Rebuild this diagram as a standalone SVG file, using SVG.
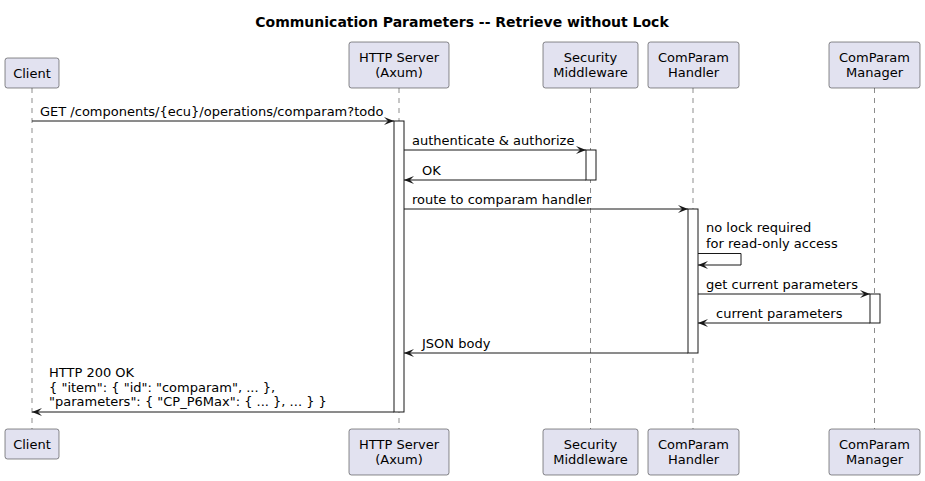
<svg xmlns="http://www.w3.org/2000/svg" width="925" height="481" viewBox="0 0 925 481">
<defs>
<style>
text{font-family:"DejaVu Sans","Liberation Sans",sans-serif;font-size:13px;fill:#000}
.title{font-size:14px;font-weight:bold}
.p rect{fill:#E2E2F0;stroke:#181818;stroke-width:0.5}
.p text{text-anchor:middle}
.life{stroke:#181818;stroke-width:0.5;stroke-dasharray:5,5;fill:none}
.act{fill:#FFFFFF;stroke:#181818;stroke-width:1}
.msg{stroke:#181818;stroke-width:1;fill:none}
</style>
<marker id="ah" viewBox="0 0 10 8" refX="10" refY="4" markerWidth="10" markerHeight="8" markerUnits="userSpaceOnUse" orient="auto">
<polygon points="0,0 10,4 0,8 4,4" fill="#181818"/>
</marker>
</defs>
<rect width="925" height="481" fill="#FFFFFF"/>
<text class="title" x="462" y="27" text-anchor="middle">Communication Parameters -- Retrieve without Lock</text>

<g id="lifelines">
<line class="life" x1="32" y1="88" x2="32" y2="429"/>
<line class="life" x1="399" y1="88" x2="399" y2="429"/>
<line class="life" x1="590.5" y1="88" x2="590.5" y2="429"/>
<line class="life" x1="693" y1="88" x2="693" y2="429"/>
<line class="life" x1="874.5" y1="88" x2="874.5" y2="429"/>
</g>

<g id="client">
<g class="p"><rect x="5" y="58" width="54" height="30" rx="2.5"/><text x="32" y="78">Client</text></g>
<g class="p"><rect x="5" y="429" width="54" height="30" rx="2.5"/><text x="32" y="449">Client</text></g>
</g>
<g id="http-server">
<g class="p"><rect x="349" y="42" width="100" height="46" rx="2.5"/><text x="399" y="62">HTTP Server</text><text x="399" y="77">(Axum)</text></g>
<g class="p"><rect x="349" y="429" width="100" height="46" rx="2.5"/><text x="399" y="449">HTTP Server</text><text x="399" y="464">(Axum)</text></g>
<rect class="act" x="394" y="121" width="10" height="291"/>
</g>
<g id="security-middleware">
<g class="p"><rect x="543" y="42" width="95" height="46" rx="2.5"/><text x="590.5" y="62">Security</text><text x="590.5" y="77">Middleware</text></g>
<g class="p"><rect x="543" y="429" width="95" height="46" rx="2.5"/><text x="590.5" y="449">Security</text><text x="590.5" y="464">Middleware</text></g>
<rect class="act" x="586" y="150" width="10" height="30"/>
</g>
<g id="comparam-handler">
<g class="p"><rect x="648" y="42" width="91" height="46" rx="2.5"/><text x="693.5" y="62">ComParam</text><text x="693.5" y="77">Handler</text></g>
<g class="p"><rect x="648" y="429" width="91" height="46" rx="2.5"/><text x="693.5" y="449">ComParam</text><text x="693.5" y="464">Handler</text></g>
<rect class="act" x="688" y="209" width="10" height="144"/>
</g>
<g id="comparam-manager">
<g class="p"><rect x="829" y="42" width="91" height="46" rx="2.5"/><text x="874.5" y="62">ComParam</text><text x="874.5" y="77">Manager</text></g>
<g class="p"><rect x="829" y="429" width="91" height="46" rx="2.5"/><text x="874.5" y="449">ComParam</text><text x="874.5" y="464">Manager</text></g>
<rect class="act" x="870" y="294" width="10" height="29"/>
</g>

<g id="connectors">
<line class="msg" x1="32" y1="121" x2="394" y2="121" marker-end="url(#ah)"/>
<text x="40" y="116">GET /components/{ecu}/operations/comparam?todo</text>

<line class="msg" x1="404" y1="150" x2="586" y2="150" marker-end="url(#ah)"/>
<text x="412" y="145">authenticate &amp; authorize</text>

<line class="msg" x1="586" y1="180" x2="404" y2="180" marker-end="url(#ah)"/>
<text x="422" y="175">OK</text>

<line class="msg" x1="404" y1="209" x2="688" y2="209" marker-end="url(#ah)"/>
<text x="412" y="204">route to comparam handler</text>

<polyline class="msg" points="698,253.5 741,253.5 741,265 698,265" marker-end="url(#ah)"/>
<text x="706" y="232">no lock required</text>
<text x="706" y="247.5">for read-only access</text>

<line class="msg" x1="698" y1="294" x2="870" y2="294" marker-end="url(#ah)"/>
<text x="706" y="289">get current parameters</text>

<line class="msg" x1="870" y1="323" x2="698" y2="323" marker-end="url(#ah)"/>
<text x="716" y="318">current parameters</text>

<line class="msg" x1="688" y1="353" x2="404" y2="353" marker-end="url(#ah)"/>
<text x="422" y="348">JSON body</text>

<line class="msg" x1="394" y1="412" x2="32" y2="412" marker-end="url(#ah)"/>
<text x="49" y="377">HTTP 200 OK</text>
<text x="49" y="391.5">{ "item": { "id": "comparam", ... },</text>
<text x="49" y="406">"parameters": { "CP_P6Max": { ... }, ... } }</text>
</g>
</svg>
